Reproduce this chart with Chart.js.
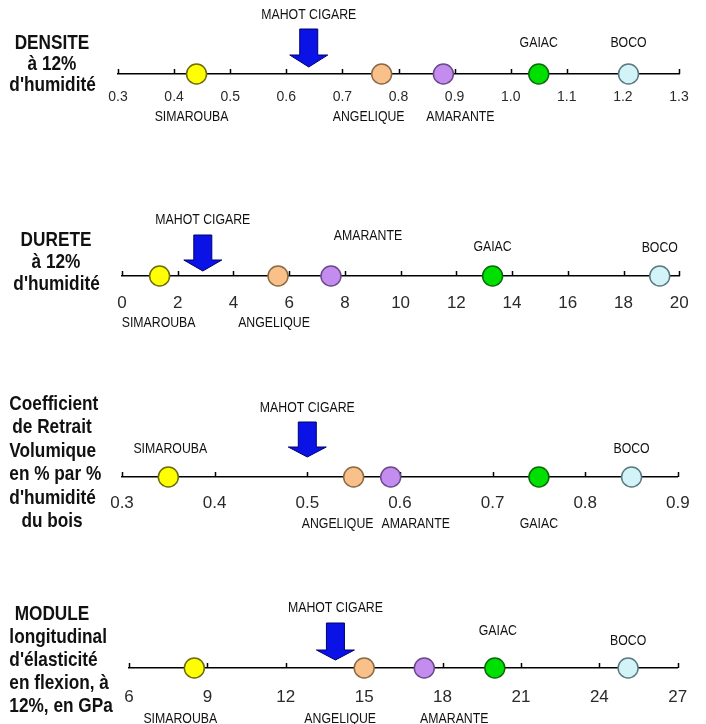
<!DOCTYPE html>
<html>
<head>
<meta charset="utf-8">
<script src="https://cdn.jsdelivr.net/npm/chart.js@4.4.1/dist/chart.umd.min.js"></script>
<style>
  html, body { margin: 0; padding: 0; background: #fff; overflow: hidden; }
  #page { position: relative; width: 706px; height: 724px; overflow: hidden; background: #fff; }
  #page canvas { position: absolute; left: 0; }
  .titre {
    position: absolute; left: 0; width: 104px; text-align: center;
    font: bold 21px 'Liberation Sans', Arial, sans-serif;
    color: #111; white-space: nowrap;
    transform: scaleX(0.82); transform-origin: 50% 50%;
  }
</style>
</head>
<body>
<div id="page"></div>
<script>
// essences comparées (même ordre dans chaque série)
const especes = ['SIMAROUBA', 'ANGELIQUE', 'AMARANTE', 'GAIAC', 'BOCO'];

const densite = [0.44, 0.77, 0.88, 1.05, 1.21];
const durete = [1.35, 5.6, 7.5, 13.3, 19.3];
const retrait = [0.35, 0.55, 0.59, 0.75, 0.85];
const moduleE = [8.5, 15.0, 17.3, 20.0, 25.1];
// mahot cigare (la flèche), une valeur par échelle
const mahot = [0.64, 2.9, 0.5, 13.9];

// bornes des axes et pas des graduations
const axeMin = [0.3, 0, 0.3, 6];
const axeMax = [1.3, 20, 0.9, 27];
const axePas = [0.1, 2, 0.1, 3];
const decimales = [1, 0, 1, 0];

const titres = [
    ['DENSITE', 'à 12%', "d'humidité"],
    ['DURETE', 'à 12%', "d'humidité"],
    ['Coefficient', 'de Retrait', 'Volumique', 'en % par %', "d'humidité", 'du bois'],
    ['MODULE', 'longitudinal', "d'élasticité", 'en flexion, à', '12%, en GPa']
];

const couleurs = ['#ffff00', '#f9c089', '#c58cf0', '#00e000', '#d2f4f8'];
const bords = ['#6b6b10', '#8a6a45', '#6a4a8a', '#0a6a0a', '#5a7a80'];

// mise en page de chaque bande (pixels)
const bandes = [
    { axeY: 74, gauche: 118, droite: 27, taille: 14, tickDy: 23,
      dx: [-5, -13, 17, 0, 0], dy: [43, 43, 43, -31.5, -31.5], mDy: -59,
      fleche: [-45, -19, -7], titreX: 52, titreY: 31, titreLh: 21 },
    { axeY: 276, gauche: 122, droite: 24, taille: 17, tickDy: 27.5,
      dx: [-1, -4, 37, 0, 0], dy: [46.5, 46.5, -40, -29.5, -28.5], mDy: -56,
      fleche: [-41, -16, -5], titreX: 56, titreY: 227.5, titreLh: 22 },
    { axeY: 477, gauche: 122, droite: 28, taille: 17, tickDy: 26.5,
      dx: [2, -16, 25, 0, 0], dy: [-28, 47, 47, 47, -28.5], mDy: -69.5,
      fleche: [-55, -30, -20], titreX: 52, titreY: 390.75, titreLh: 23.5 },
    { axeY: 668, gauche: 129, droite: 16, taille: 17, tickDy: 29,
      dx: [-14, -24, 30, 3, 0], dy: [51, 51, 51, -37, -27], mDy: -60,
      fleche: [-45, -18, -8], titreX: 52, titreY: 601, titreLh: 23 }
];

const series = [densite, durete, retrait, moduleE];
const policeNoms = "15px 'Liberation Sans', Arial";
const serrage = 0.82;

function texteSerre(ctx, txt, x, y) {
    ctx.save();
    ctx.translate(x, y);
    ctx.scale(serrage, 1);
    ctx.fillText(txt, 0, 0);
    ctx.restore();
}

// petites graduations vers le haut, puis flèche et noms
const echelleBois = {
    id: 'echelleBois',
    beforeDatasetsDraw(chart, args, o) {
        const ctx = chart.ctx;
        const xs = chart.scales.x;
        const y0 = chart.chartArea.bottom;
        ctx.save();
        ctx.strokeStyle = '#000';
        ctx.lineWidth = 1.5;
        xs.ticks.forEach(t => {
            const x = Math.round(xs.getPixelForValue(t.value)) + 0.5;
            ctx.beginPath();
            ctx.moveTo(x, y0);
            ctx.lineTo(x, y0 - 5);
            ctx.stroke();
        });
        ctx.restore();
    },
    afterDatasetsDraw(chart, args, o) {
        const ctx = chart.ctx;
        const xs = chart.scales.x;
        const y0 = chart.chartArea.bottom;
        const b = o.bande;

        // flèche du mahot cigare
        const ax = xs.getPixelForValue(o.mahot);
        const [haut, tete, pointe] = b.fleche;
        ctx.save();
        ctx.beginPath();
        ctx.moveTo(ax - 9, y0 + haut);
        ctx.lineTo(ax + 9, y0 + haut);
        ctx.lineTo(ax + 9, y0 + tete);
        ctx.lineTo(ax + 19, y0 + tete);
        ctx.lineTo(ax, y0 + pointe);
        ctx.lineTo(ax - 19, y0 + tete);
        ctx.lineTo(ax - 9, y0 + tete);
        ctx.closePath();
        ctx.fillStyle = '#0a12e6';
        ctx.fill();
        ctx.strokeStyle = '#00006e';
        ctx.lineWidth = 1;
        ctx.stroke();

        ctx.font = policeNoms;
        ctx.fillStyle = '#111';
        ctx.textAlign = 'center';
        ctx.textBaseline = 'middle';
        texteSerre(ctx, 'MAHOT CIGARE', ax, y0 + b.mDy);

        const pts = chart.getDatasetMeta(0).data;
        pts.forEach((p, i) => {
            texteSerre(ctx, especes[i], p.x + b.dx[i], y0 + b.dy[i]);
        });
        ctx.restore();
    }
};

const page = document.getElementById('page');

bandes.forEach((b, k) => {
    const canvas = document.createElement('canvas');
    canvas.width = 706;
    canvas.height = 220;
    page.appendChild(canvas);

    const chart = new Chart(canvas, {
        type: 'scatter',
        data: {
            datasets: [{
                data: series[k].map(v => ({ x: v, y: 0 })),
                pointRadius: 10,
                pointHoverRadius: 10,
                pointBackgroundColor: couleurs,
                pointBorderColor: bords,
                pointBorderWidth: 1.5,
                clip: false
            }]
        },
        options: {
            responsive: false,
            animation: false,
            events: [],
            layout: { padding: { left: b.gauche, right: b.droite, top: 20, bottom: 50 } },
            plugins: {
                legend: { display: false },
                tooltip: { enabled: false },
                echelleBois: { bande: b, mahot: mahot[k] }
            },
            scales: {
                x: {
                    type: 'linear',
                    min: axeMin[k],
                    max: axeMax[k],
                    grid: { display: false, drawTicks: false },
                    border: { display: true, color: '#000', width: 1.5 },
                    ticks: {
                        stepSize: axePas[k],
                        autoSkip: false,
                        maxRotation: 0,
                        padding: b.tickDy - b.taille * 0.6,
                        color: '#2a2a2a',
                        font: { family: "'Liberation Sans', Arial", size: b.taille },
                        callback: v => Number(v).toFixed(decimales[k])
                    }
                },
                y: { display: false, min: 0, max: 1 }
            }
        },
        plugins: [echelleBois]
    });
    canvas.style.top = (b.axeY - chart.chartArea.bottom) + 'px';

    const t = document.createElement('div');
    t.className = 'titre';
    t.style.top = b.titreY + 'px';
    t.style.left = (b.titreX - 52) + 'px';
    t.style.lineHeight = b.titreLh + 'px';
    t.innerHTML = titres[k].join('<br>');
    page.appendChild(t);
});
</script>
</body>
</html>
